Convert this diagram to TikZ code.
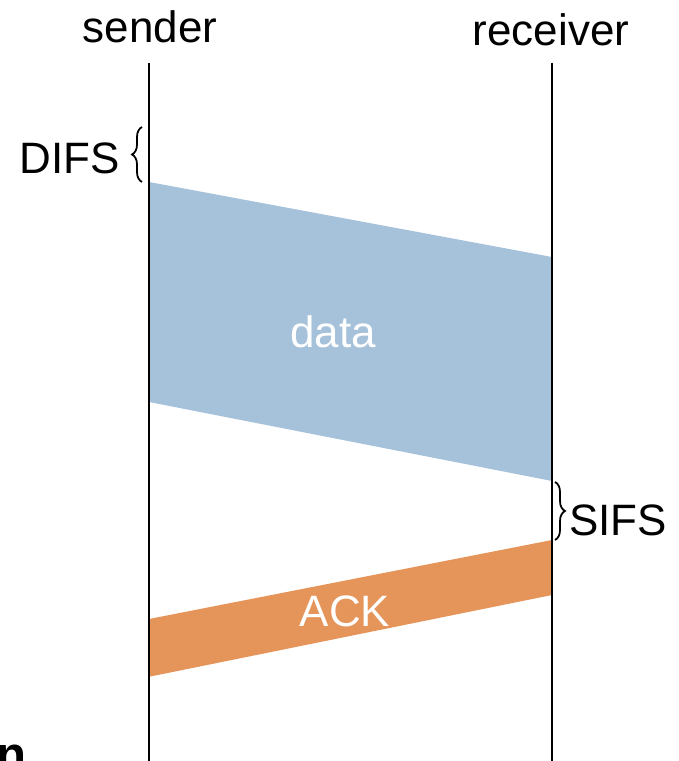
\documentclass[tikz,border=0pt]{standalone}
\usepackage{fontspec}
\setmainfont{Liberation Sans}
\usetikzlibrary{decorations.pathreplacing}
\definecolor{datablue}{RGB}{166,194,218}
\definecolor{ackorange}{RGB}{229,148,90}
\begin{document}
\begin{tikzpicture}[x=0.01cm,y=-0.01cm]
			\tikzstyle{lbl}=[font=\fontsize{12.5}{14}\selectfont]
			\tikzstyle{life}=[draw,line width=0.6pt]
			\tikzstyle{ifs}=[draw,line width=0.5pt,decorate,decoration={brace,amplitude=0.1cm}]
			\useasboundingbox (0,0) rectangle (678,761);

			\node (snd) at (150,27) [lbl] {sender};
			\node (rcv) at (551,30) [lbl] {receiver};
			\coordinate (sndtop) at (149,63);
			\coordinate (sndbot) at (149,761);
			\coordinate (rcvtop) at (552,63);
			\coordinate (rcvbot) at (552,761);

			% data frame
			\fill [datablue] (149,182) -- (552,257) -- (552,481) -- (149,402) -- cycle;
			\node (data) at (333,332) [lbl,white] {data};

			% ack frame
			\fill [ackorange] (552,540) -- (552,595) -- (148,677) -- (149,619) -- cycle;
			\node (ack) at (345,611) [lbl,white] {ACK};

			\path [life] (sndtop) -- (sndbot);
			\path [life] (rcvtop) -- (rcvbot);

			% inter frame spaces
			\coordinate (difsa) at (142,182);
			\coordinate (difsb) at (142,127);
			\coordinate (sifsa) at (555,482);
			\coordinate (sifsb) at (555,540);
			\path [ifs] (difsa) -- (difsb);
			\path [ifs] (sifsa) -- (sifsb);
			\node (difs) at (70,158) [lbl] {DIFS};
			\node (sifs) at (618,520) [lbl] {SIFS};

			\node (cut) at (12,758) [font=\fontsize{14}{16}\selectfont] {\textbf{n}};
		\end{tikzpicture}
\end{document}
